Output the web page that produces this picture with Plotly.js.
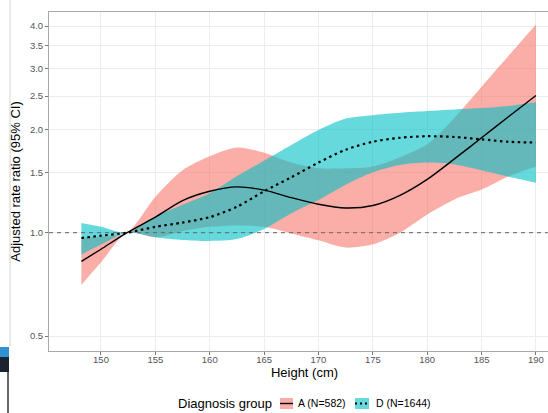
<!DOCTYPE html>
<html>
<head>
<meta charset="utf-8">
<script src="https://cdn.plot.ly/plotly-3.0.1.min.js"></script>
<style>
html, body { margin:0; padding:0; overflow:hidden; background:#fff; }
#chart { width:560px; height:413px; }
</style>
</head>
<body>
<div id="chart"></div>
<script>
// ---- data ----
const heights = [148.2,150,152.4,155,157.5,160,162.5,165,167.5,170,172.5,175,177.5,180,182.5,185,187.5,190];
const A_est = [0.825,0.895,1.0,1.11,1.24,1.32,1.36,1.33,1.265,1.21,1.18,1.20,1.285,1.43,1.64,1.89,2.18,2.51];
const A_low = [0.705,0.82,1.0,0.97,1.01,1.04,1.05,1.04,0.995,0.95,0.905,0.925,1.0,1.13,1.25,1.335,1.46,1.56];
const A_up  = [0.965,0.975,1.0,1.27,1.52,1.67,1.77,1.71,1.60,1.54,1.54,1.56,1.66,1.81,2.16,2.66,3.28,4.04];
const D_est = [0.965,0.98,1.0,1.04,1.07,1.11,1.19,1.32,1.45,1.60,1.745,1.84,1.89,1.91,1.90,1.87,1.84,1.83];
const D_low = [0.863,0.923,1.0,0.970,0.952,0.946,0.958,1.025,1.14,1.245,1.38,1.50,1.575,1.60,1.58,1.52,1.455,1.397];
const D_up  = [1.067,1.041,1.0,1.115,1.206,1.303,1.46,1.62,1.80,1.99,2.15,2.20,2.235,2.262,2.285,2.307,2.339,2.397];
const refValue = [1, 1];
const xTickVals = [150,155,160,165,170,175,180,185,190];
const yTickVals = [0.5,1.0,1.5,2.0,2.5,3.0,3.5,4.0];
const yTickText = ["0.5","1.0","1.5","2.0","2.5","3.0","3.5","4.0"];
const groupLabels = ["A (N=582)", "D (N=1644)"];
const legendTitle = "Diagnosis group";

// ---- styling / layout ----
const W = 560, H = 413, L = 49, R = 0, T = 12, B = 62;
const xRange = [145.22, 192.21];
const yRange = [-0.3447, 0.6429];
const pinkFill = 'rgba(248,118,109,0.6)';
const tealFill = 'rgba(0,191,196,0.6)';
const FONT = 'Liberation Sans, Arial, Helvetica, sans-serif';
const px = v => (v - L) / (W - L - R);
const py = v => 1 - (v - T) / (H - T - B);

const sp = {shape:'spline', smoothing:0.8};
const traces = [
  {x:heights, y:A_low, mode:'lines', line:Object.assign({width:0, color:pinkFill}, sp), showlegend:false, hoverinfo:'skip'},
  {x:heights, y:A_up, mode:'lines', fill:'tonexty', fillcolor:pinkFill, line:Object.assign({width:0, color:pinkFill}, sp), showlegend:false, hoverinfo:'skip'},
  {x:heights, y:D_low, mode:'lines', line:Object.assign({width:0, color:tealFill}, sp), showlegend:false, hoverinfo:'skip'},
  {x:heights, y:D_up, mode:'lines', fill:'tonexty', fillcolor:tealFill, line:Object.assign({width:0, color:tealFill}, sp), showlegend:false, hoverinfo:'skip'},
  {x:xRange, y:refValue, mode:'lines', line:{color:'#666', width:1, dash:'4px,4px'}, showlegend:false, hoverinfo:'skip'},
  {x:heights, y:A_est, mode:'lines', line:Object.assign({color:'#000', width:1.4}, sp), showlegend:false},
  {x:heights, y:D_est, mode:'lines', line:Object.assign({color:'#000', width:2.2, dash:'2.5px,3.5px'}, sp), showlegend:false}
];

const shapes = [
  // legend keys
  {type:'rect', xref:'paper', yref:'paper', x0:px(280), x1:px(293), y0:py(409), y1:py(398), fillcolor:pinkFill, line:{width:0}},
  {type:'line', xref:'paper', yref:'paper', x0:px(280), x1:px(293), y0:py(403.5), y1:py(403.5), line:{color:'#000', width:1.4}},
  {type:'rect', xref:'paper', yref:'paper', x0:px(355), x1:px(369), y0:py(409), y1:py(398), fillcolor:tealFill, line:{width:0}},
  {type:'line', xref:'paper', yref:'paper', x0:px(355), x1:px(369), y0:py(403.5), y1:py(403.5), line:{color:'#000', width:2, dash:'2px,3px'}},
  // cropped neighbour artefacts at the left edge
  {type:'line', xref:'paper', yref:'paper', x0:px(10), x1:px(10), y0:py(0), y1:py(346), line:{color:'#d4d4d4', width:1}},
  {type:'rect', xref:'paper', yref:'paper', x0:px(0), x1:px(9), y0:py(357), y1:py(347), fillcolor:'#2f93d3', line:{width:0}},
  {type:'rect', xref:'paper', yref:'paper', x0:px(0), x1:px(9), y0:py(372), y1:py(357), fillcolor:'#1c2230', line:{width:0}},
  {type:'line', xref:'paper', yref:'paper', x0:px(8), x1:px(8), y0:py(372), y1:py(413), line:{color:'#333', width:1.5}}
];

const annotations = [
  {text:legendTitle, xref:'paper', yref:'paper', x:px(176), y:py(403.5), xanchor:'left', yanchor:'middle', showarrow:false, font:{family:FONT, size:13, color:'#000'}},
  {text:groupLabels[0], xref:'paper', yref:'paper', x:px(296), y:py(403.5), xanchor:'left', yanchor:'middle', showarrow:false, font:{family:FONT, size:10.5, color:'#000'}},
  {text:groupLabels[1], xref:'paper', yref:'paper', x:px(374), y:py(403.5), xanchor:'left', yanchor:'middle', showarrow:false, font:{family:FONT, size:10.5, color:'#000'}}
];

const layout = {
  width:W, height:H,
  margin:{l:L, r:R, t:T, b:B, pad:0},
  paper_bgcolor:'#fff', plot_bgcolor:'#fff',
  font:{family:FONT},
  showlegend:false,
  xaxis:{
    range:xRange, tickvals:xTickVals, ticks:'outside', ticklen:3, tickcolor:'#777', tickwidth:1,
    tickfont:{family:FONT, size:9.5, color:'#555'}, ticklabelstandoff:-3,
    showgrid:true, gridcolor:'#ececec', gridwidth:1, zeroline:false,
    showline:true, linecolor:'#a8a8a8', linewidth:1, mirror:true,
    title:{text:'Height (cm)', font:{family:FONT, size:13, color:'#000'}, standoff:0}
  },
  yaxis:{
    type:'log', range:yRange, tickvals:yTickVals, ticktext:yTickText,
    ticks:'outside', ticklen:3, tickcolor:'#777', tickwidth:1,
    tickfont:{family:FONT, size:9.5, color:'#555'},
    showgrid:true, gridcolor:'#ececec', gridwidth:1, zeroline:false,
    showline:true, linecolor:'#a8a8a8', linewidth:1, mirror:false,
    title:{text:'Adjusted rate ratio (95% CI)', font:{family:FONT, size:13, color:'#000'}, standoff:6}
  },
  shapes:shapes,
  annotations:annotations
};

Plotly.newPlot('chart', traces, layout, {staticPlot:true, displayModeBar:false});
</script>
</body>
</html>
